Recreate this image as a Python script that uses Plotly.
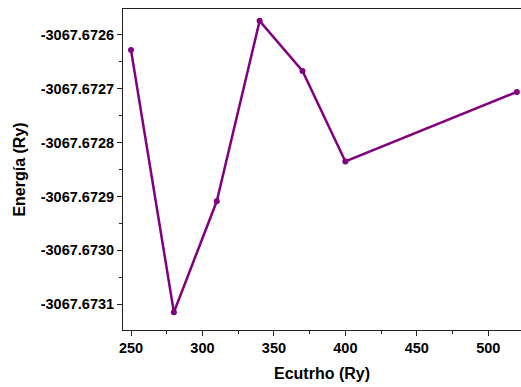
import plotly.graph_objects as go

ecutrho = [250, 280, 310, 340, 370, 400, 520]
energia = [-3067.672628, -3067.673115, -3067.672909, -3067.672574,
           -3067.672667, -3067.672835, -3067.672706]
y_ticks = [-3067.6726, -3067.6727, -3067.6728, -3067.6729, -3067.6730, -3067.6731]
y_tick_labels = ["-3067.6726", "-3067.6727", "-3067.6728", "-3067.6729", "-3067.6730", "-3067.6731"]
x_ticks = [250, 300, 350, 400, 450, 500]

fig = go.Figure(go.Scatter(
    x=ecutrho, y=energia, mode="lines+markers",
    line=dict(color="#800080", width=2.5),
    marker=dict(color="#800080", size=6, symbol="circle"),
))

font = "Liberation Sans, Arial, sans-serif"
fig.update_layout(
    width=521, height=387,
    margin=dict(l=123, r=0, t=9, b=57),
    plot_bgcolor="white", paper_bgcolor="white",
    showlegend=False,
    font=dict(family=font, color="black"),
    xaxis=dict(
        range=[244.4, 522.9], tickvals=x_ticks,
        showline=True, linecolor="#222", linewidth=1, mirror=True,
        ticks="outside", ticklen=5, tickcolor="#222",
        minor=dict(ticks="outside", ticklen=3, dtick=25, tick0=250, tickcolor="#222"),
        showgrid=False, zeroline=False,
        tickfont=dict(size=14.5, family=font, weight="bold"),
        title=dict(text="<b>Ecutrho (Ry)</b>", font=dict(size=16), standoff=12),
    ),
    yaxis=dict(
        range=[-3067.673148, -3067.672552], tickvals=y_ticks, ticktext=y_tick_labels,
        showline=True, linecolor="#222", linewidth=1,
        ticks="outside", ticklen=5, tickcolor="#222",
        minor=dict(ticks="outside", ticklen=3, dtick=0.00005, tick0=-3067.6726, tickcolor="#222"),
        showgrid=False, zeroline=False,
        tickfont=dict(size=14.5, family=font, weight="bold"),
        title=dict(text="<b>Energía (Ry)</b>", font=dict(size=16), standoff=11),
    ),
)

fig.write_html("out.html")
